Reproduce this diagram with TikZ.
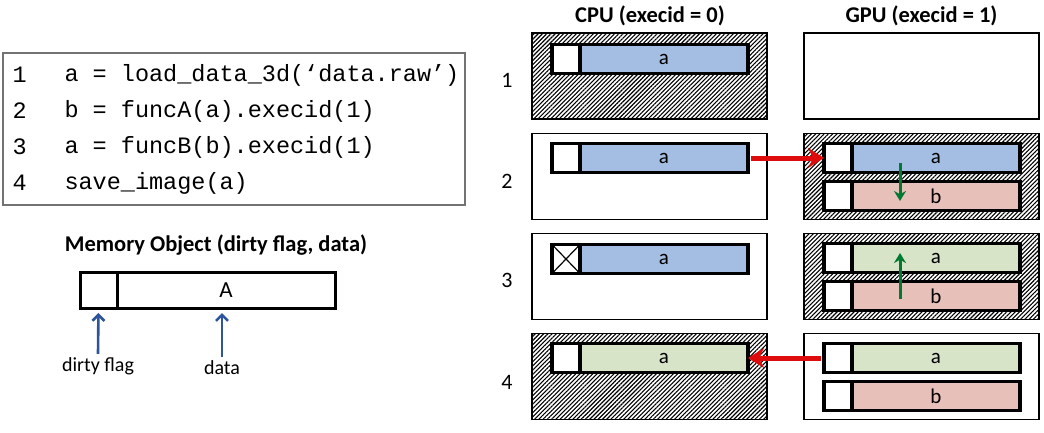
\documentclass[tikz,border=0pt]{standalone}
\usepackage{fontspec}
\setmainfont{Carlito}
\setmonofont{Liberation Mono}
\usetikzlibrary{arrows.meta,patterns.meta,positioning}
\definecolor{bleu}{RGB}{163,190,226}
\definecolor{vert}{RGB}{216,228,199}
\definecolor{rose}{RGB}{232,192,186}
\definecolor{rouge}{RGB}{222,12,12}
\definecolor{vertf}{RGB}{0,122,48}
\definecolor{bleuf}{RGB}{45,85,155}
\begin{document}
\begin{tikzpicture}
    [x=1pt,y=-1pt,
    every node/.style={font=\fontsize{21}{25}\selectfont},%
    boite/.style={draw,line width=1.4pt,minimum width=235pt,
      minimum height=86pt,inner sep=0pt,outer sep=0pt},
    hachure/.style={pattern={Lines[angle=45,distance=3pt,line width=1.1pt]}},
    drapeau/.style={draw,fill=white,line width=3.2pt,minimum width=28pt,
      minimum height=29pt,inner sep=0pt,outer sep=0pt},
    donnee/.style={draw,line width=3.2pt,minimum width=168pt,
      minimum height=29pt,inner sep=0pt,outer sep=0pt},
    cross/.style={path picture={ 
        \draw[line width=1.2pt]
        (path picture bounding box.south east) -- (path picture
        bounding box.north west) (path picture bounding box.south
        west) -- (path picture bounding box.north east); 
      }}]
    \tikzstyle{ligne}=[anchor=west,font=\ttfamily\fontsize{23.5}{27}\selectfont]
    \tikzstyle{titre}=[font=\bfseries\fontsize{22.5}{26}\selectfont]
    \useasboundingbox (0,0) rectangle (1044,432);

    \node[draw=black!55,line width=1.5pt,minimum width=462pt,
    minimum height=152pt] (code) at (234,129) {};
    \node[ligne] (n1) at (9,75) {1};
    \node[ligne] (n2) at (9,111) {2};
    \node[ligne] (n3) at (9,147) {3};
    \node[ligne] (n4) at (9,183) {4};
    \node[ligne] (l1) at (61,75) {a = load\_data\_3d(‘data.raw’)};
    \node[ligne] (l2) at (61,111) {b = funcA(a).execid(1)};
    \node[ligne] (l3) at (61,147) {a = funcB(b).execid(1)};
    \node[ligne] (l4) at (61,183) {save\_image(a)};

    \node[titre] (mo) at (216,245) {Memory Object (dirty flag, data)};
    \node[draw,line width=3pt,minimum width=37pt,minimum height=36pt,
    outer sep=0pt] (mf) at (98.5,290) {};
    \node[draw,line width=3pt,minimum width=218pt,minimum height=36pt,
    outer sep=0pt,right=0pt of mf,font=\fontsize{23}{27}\selectfont] (md) {A};
    \node[font=\fontsize{20}{24}\selectfont] (df) at (98,366) {dirty flag};
    \node[font=\fontsize{20}{24}\selectfont] (dt) at (222,368) {data};
    \draw[->,>={Straight Barb[length=6pt,width=12pt]},bleuf,line width=2.6pt,
    shorten >=5pt] (df.north) -- (mf.south);
    \draw[->,>={Straight Barb[length=6pt,width=12pt]},bleuf,line width=2.6pt,
    shorten >=5pt] (dt.north) -- (dt.north |- md.south);

    \node[titre] (cpu) at (650,16) {CPU (execid = 0)};
    \node[titre] (gpu) at (921.5,16) {GPU (execid = 1)};
    \node[font=\fontsize{22}{26}\selectfont] (r1) at (507,80) {1};
    \node[font=\fontsize{22}{26}\selectfont] (r2) at (507,181) {2};
    \node[font=\fontsize{22}{26}\selectfont] (r3) at (507,280) {3};
    \node[font=\fontsize{22}{26}\selectfont] (r4) at (507,382) {4};

    \node[boite,hachure] (c1) at (649.5,76) {};
    \node[boite] (g1) at (921.5,76) {};
    \node[donnee,fill=bleu] (c1a) at (664,59) {a};
    \node[drapeau,left=0pt of c1a] (c1f) {};

    \node[boite] (c2) at (649.5,176.5) {};
    \node[boite,hachure] (g2) at (921.5,176.5) {};
    \node[donnee,fill=bleu] (c2a) at (664,158) {a};
    \node[drapeau,left=0pt of c2a] (c2f) {};
    \node[donnee,fill=bleu] (g2a) at (936,158) {a};
    \node[drapeau,left=0pt of g2a] (g2af) {};
    \node[donnee,fill=rose] (g2b) at (936,196) {b};
    \node[drapeau,left=0pt of g2b] (g2bf) {};

    \node[boite] (c3) at (649.5,276.5) {};
    \node[boite,hachure] (g3) at (921.5,276.5) {};
    \node[donnee,fill=bleu] (c3a) at (664,259) {a};
    \node[drapeau,cross,left=0pt of c3a] (c3f) {};
    \node[donnee,fill=vert] (g3a) at (936,258) {a};
    \node[drapeau,left=0pt of g3a] (g3af) {};
    \node[donnee,fill=rose] (g3b) at (936,296) {b};
    \node[drapeau,left=0pt of g3b] (g3bf) {};

    \node[boite,hachure] (c4) at (649.5,376.5) {};
    \node[boite] (g4) at (921.5,376.5) {};
    \node[donnee,fill=vert] (c4a) at (664,358) {a};
    \node[drapeau,left=0pt of c4a] (c4f) {};
    \node[donnee,fill=vert] (g4a) at (936,358) {a};
    \node[drapeau,left=0pt of g4a] (g4af) {};
    \node[donnee,fill=rose] (g4b) at (936,396) {b};
    \node[drapeau,left=0pt of g4b] (g4bf) {};

    \draw[->,>={Stealth[length=16pt,width=20pt]},rouge,line width=5pt,
    shorten <=3pt] (c2a.east) -- (g2af.west);
    \draw[->,>={Stealth[length=16pt,width=20pt]},rouge,line width=5pt,
    shorten <=3pt] (g4af.west) -- (c4a.east);

    \draw[->,>={Stealth[length=10pt,width=12pt]},vertf,line width=3pt]
    ([xshift=-36pt,yshift=-5pt]g2a.center) -- ([xshift=-36pt,yshift=-5pt]g2b.center);
    \draw[->,>={Stealth[length=10pt,width=12pt]},vertf,line width=3pt]
    ([xshift=-36pt,yshift=-3pt]g3b.center) -- ([xshift=-36pt,yshift=5pt]g3a.center);
\end{tikzpicture}
\end{document}
